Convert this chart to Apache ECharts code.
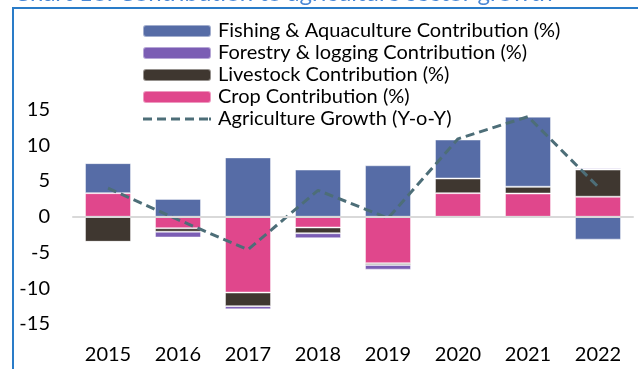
<!DOCTYPE html>
<html>
<head>
<meta charset="utf-8">
<script src="https://cdn.jsdelivr.net/npm/echarts@6/dist/echarts.min.js"></script>
<style>
  html, body { margin: 0; padding: 0; background: #ffffff; }
  #chart { width: 638px; height: 369px; }
</style>
</head>
<body>
<div id="chart"></div>
<script>
// Contribution of each sub-sector to agriculture growth, percentage points
var years = ['2015', '2016', '2017', '2018', '2019', '2020', '2021', '2022'];
var crop = [3.3, -1.6, -10.6, -1.5, -6.5, 3.3, 3.25, 2.8];
var livestock = [-3.5, -0.5, -1.9, -0.8, -0.25, 2.05, 0.95, 3.8];
var forestry = [0, -0.8, -0.45, -0.7, -0.65, 0, 0, 0.2];
var fishing = [4.2, 2.5, 8.3, 6.6, 7.2, 5.45, 9.8, -3.2];
var growth = [4.0, -0.4, -4.6, 3.7, -0.2, 10.9, 14.0, 4.2];

var names = {
  fishing: 'Fishing & Aquaculture Contribution (%)',
  forestry: 'Forestry & logging Contribution (%)',
  livestock: 'Livestock Contribution (%)',
  crop: 'Crop Contribution (%)',
  growth: 'Agriculture Growth (Y-o-Y)'
};

var FONT = 'Lato, "Noto Sans", sans-serif';
var LINE_COLOR = '#4d6e78';

// dashed stroke used as the legend key of the growth line
var dashIcon = 'path://M0,0h9v3h-9z M14,0h9v3h-9z M28,0h9v3h-9z M42,0h9v3h-9z M56,0h9v3h-9z M66,0h2v3h-2z';

function barSeries(name, data, color) {
  return {
    name: name,
    type: 'bar',
    stack: 'total',
    barWidth: 46,
    data: data,
    itemStyle: { color: color, borderColor: 'rgba(255,255,255,0.45)', borderWidth: 1 }
  };
}

var chart = echarts.init(document.getElementById('chart'), null, { renderer: 'canvas' });
chart.setOption({
  animation: false,
  backgroundColor: '#ffffff',
  graphic: [
    {
      type: 'text',
      left: 14,
      top: -19,
      style: {
        text: 'Chart 16: Contribution to agriculture sector growth',
        font: '24px ' + FONT,
        fill: '#4a88d6'
      }
    },
    {
      type: 'rect',
      shape: { x: 13, y: 8, width: 700, height: 420 },
      style: { fill: 'none', stroke: '#2a7cc8', lineWidth: 2 },
      z: 10
    }
  ],
  legend: {
    orient: 'vertical',
    left: 142,
    top: 21,
    padding: 0,
    itemWidth: 68,
    itemHeight: 12,
    itemGap: 2,
    data: [
      names.fishing,
      names.forestry,
      names.livestock,
      names.crop,
      { name: names.growth, icon: dashIcon, itemStyle: { color: LINE_COLOR } }
    ],
    textStyle: { fontFamily: FONT, fontSize: 20, lineHeight: 20, color: '#000000', padding: [0, 0, 0, 2] }
  },
  grid: { left: 73, right: 5, top: 109.5, bottom: 45, containLabel: false },
  xAxis: [
    {
      type: 'category',
      data: years,
      position: 'bottom',
      axisLine: { show: false, onZero: false },
      axisTick: { show: false },
      axisLabel: { margin: 21, fontFamily: FONT, fontSize: 20, color: '#000000' }
    },
    {
      type: 'category',
      data: years,
      position: 'bottom',
      z: 5,
      axisLine: { show: true, onZero: true, lineStyle: { color: '#d9d9d9', width: 2 } },
      axisTick: { show: false },
      axisLabel: { show: false }
    }
  ],
  yAxis: {
    type: 'value',
    min: -15,
    max: 15,
    interval: 5,
    axisLine: { show: false },
    axisTick: { show: false },
    splitLine: { show: false },
    axisLabel: { margin: 23, fontFamily: FONT, fontSize: 20, color: '#000000' }
  },
  series: [
    barSeries(names.crop, crop, '#e0478c'),
    barSeries(names.livestock, livestock, '#3f3730'),
    barSeries(names.forestry, forestry, '#7b5db4'),
    barSeries(names.fishing, fishing, '#566ca6'),
    {
      name: names.growth,
      type: 'line',
      data: growth,
      symbol: 'none',
      z: 4,
      lineStyle: { color: LINE_COLOR, width: 3, type: [9, 5], cap: 'butt' },
      itemStyle: { color: LINE_COLOR }
    }
  ]
});
</script>
</body>
</html>
